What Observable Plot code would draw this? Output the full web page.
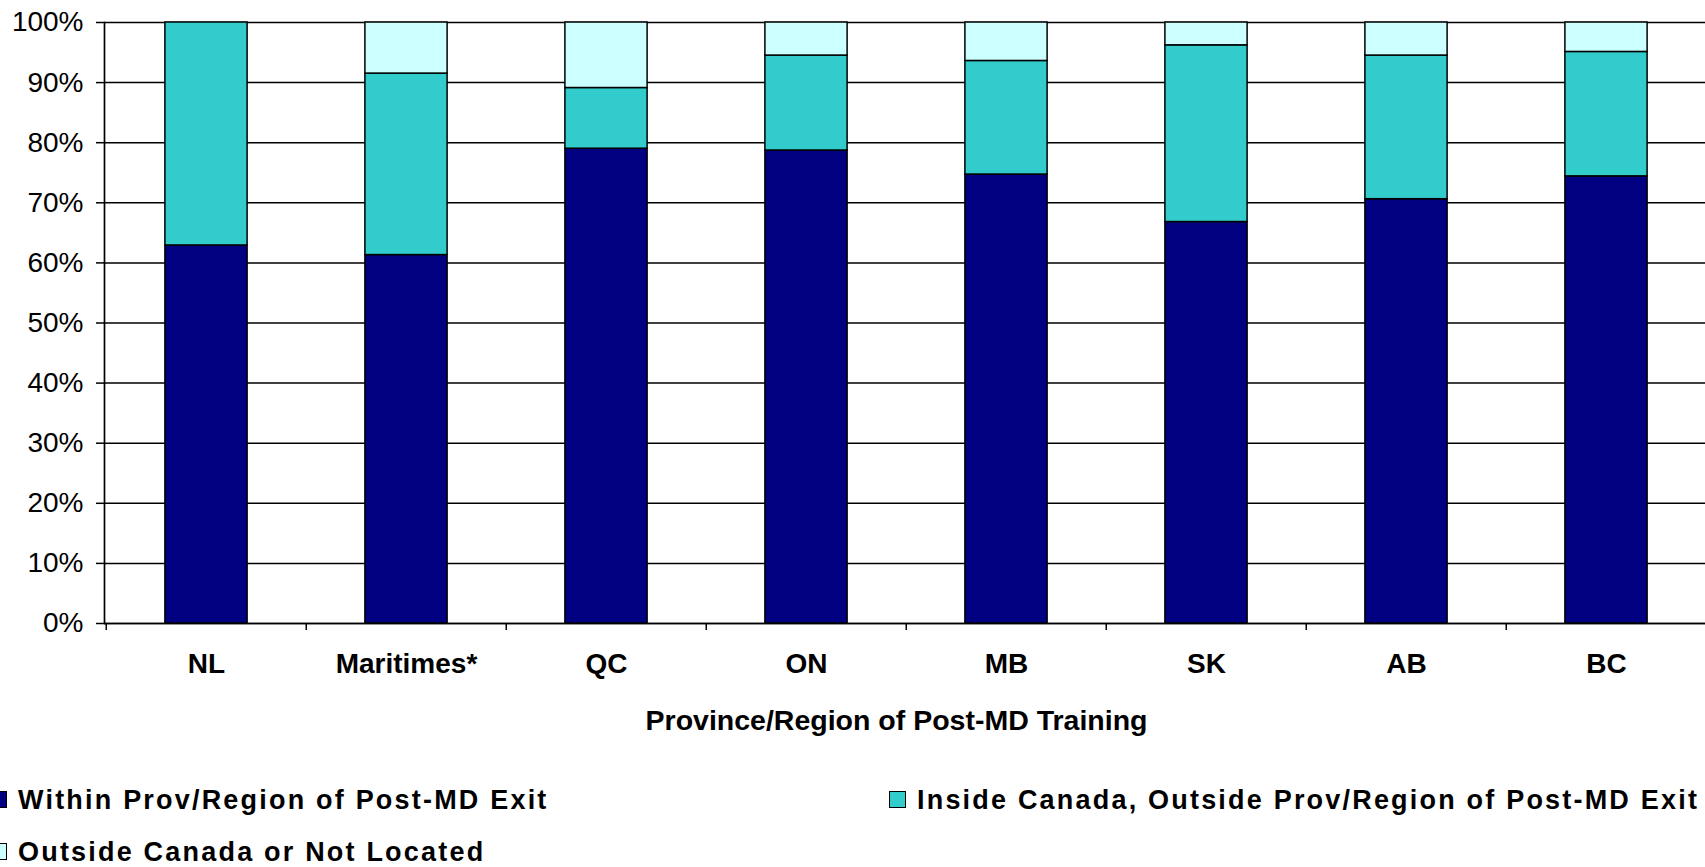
<!DOCTYPE html>
<html>
<head>
<meta charset="utf-8">
<script src="https://cdn.jsdelivr.net/npm/d3@7"></script>
<script src="https://cdn.jsdelivr.net/npm/@observablehq/plot@0.6"></script>
<style>
  html, body { margin: 0; padding: 0; background: #fff; overflow: hidden; }
  #wrap { position: relative; width: 1705px; height: 867px; overflow: hidden; font-family: "Liberation Sans", Arial, sans-serif; }
  #chart svg { display: block; }
  .legend-label { position: absolute; font-weight: bold; font-size: 27px; line-height: 26px; letter-spacing: 2.2px; color: #000; white-space: nowrap; }
  .legend-swatch { position: absolute; width: 15px; height: 15px; border: 1.5px solid #000; }
</style>
</head>
<body>
<div id="wrap">
  <div id="chart"></div>
  <div id="legend"></div>
</div>
<script>
// Province/region of post-MD training
const categories = ["NL", "Maritimes*", "QC", "ON", "MB", "SK", "AB", "BC"];

// Share of physicians (%) by location after post-MD exit
const withinProv = [62.9, 61.3, 79.0, 78.7, 74.7, 66.8, 70.6, 74.4];
const insideCanada = [37.1, 30.2, 10.1, 15.8, 18.9, 29.4, 23.9, 20.7];
const outsideCanada = [0.0, 8.5, 10.9, 5.5, 6.4, 3.8, 5.5, 4.9];

const seriesNames = [
  "Within Prov/Region of Post-MD Exit",
  "Inside Canada, Outside Prov/Region of Post-MD Exit",
  "Outside Canada or Not Located"
];
const seriesColors = ["#000080", "#33CCCC", "#CCFFFF"];

const yTicks = [0, 10, 20, 30, 40, 50, 60, 70, 80, 90, 100];
const xTitle = "Province/Region of Post-MD Training";

// long-format table for the stacked bars
const seriesValues = [withinProv, insideCanada, outsideCanada];
const rows = [];
seriesNames.forEach((s, si) => {
  categories.forEach((c, ci) => rows.push({category: c, series: s, value: seriesValues[si][ci]}));
});

const W = 1705, H = 760, ML = 104, MR = -3;
const bandHalf = (W - ML - MR) / categories.length / 2;

const chart = Plot.plot({
  width: W,
  height: H,
  marginLeft: ML,
  marginRight: MR,
  marginTop: 22,
  marginBottom: 137,
  style: {fontFamily: "'Liberation Sans', Arial, sans-serif", fontSize: "28px", color: "#000", background: "#fff"},
  x: {domain: categories, padding: 0, label: null},
  y: {domain: [0, 100], label: null},
  color: {domain: seriesNames, range: seriesColors},
  marks: [
    Plot.gridY(yTicks, {stroke: "#000", strokeOpacity: 1, strokeWidth: 1.5}),
    Plot.barY(rows, {
      x: "category", y: "value", fill: "series",
      stroke: "#000", strokeWidth: 1.5,
      insetLeft: 58.9, insetRight: 58.9
    }),
    Plot.ruleY([0], {stroke: "#000", strokeWidth: 1.7}),
    Plot.frame({anchor: "left", stroke: "#000", strokeWidth: 1.7}),
    Plot.axisY({ticks: yTicks, tickSize: 8, tickPadding: 13, tickFormat: d => d + "%", label: null, stroke: "#000", strokeOpacity: 1, strokeWidth: 1.5}),
    // tick marks sit on the category boundaries
    Plot.axisX({tickSize: 7, tickFormat: () => "", dx: -bandHalf, label: null, stroke: "#000", strokeOpacity: 1, strokeWidth: 1.5}),
    Plot.axisX({tickSize: 0, tickPadding: 30, fontWeight: "bold", label: null}),
    Plot.text([xTitle], {frameAnchor: "bottom", dy: 97, dx: -10, lineAnchor: "middle", fontWeight: "bold", fontSize: 28.5, text: d => d})
  ]
});
document.getElementById("chart").appendChild(chart);

// legend below the chart: swatch and label placed separately
const legendPos = [
  {swatch: -10, label: 18, top: 787},
  {swatch: 889, label: 917, top: 787},
  {swatch: -10, label: 18, top: 839}
];
const legend = document.getElementById("legend");
seriesNames.forEach((name, i) => {
  const p = legendPos[i];
  const sw = document.createElement("div");
  sw.className = "legend-swatch";
  sw.style.background = seriesColors[i];
  sw.style.left = p.swatch + "px";
  sw.style.top = (p.top + 4) + "px";
  const label = document.createElement("div");
  label.className = "legend-label";
  label.style.left = p.label + "px";
  label.style.top = p.top + "px";
  label.textContent = name;
  legend.appendChild(sw);
  legend.appendChild(label);
});
</script>
</body>
</html>
